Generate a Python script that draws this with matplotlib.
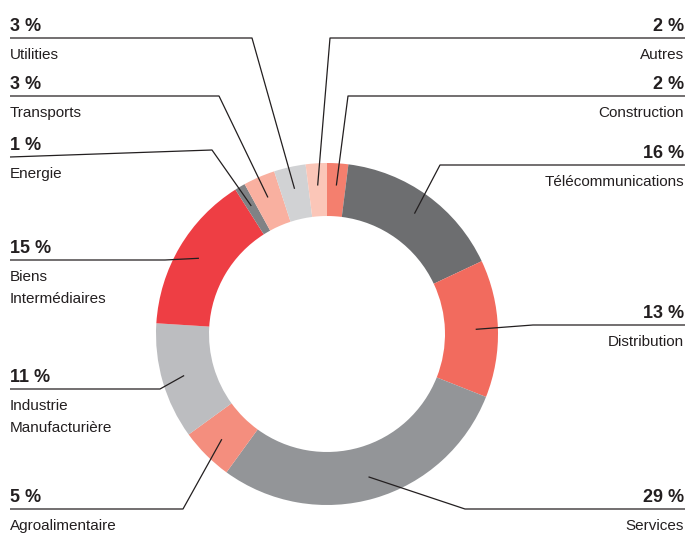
import numpy as np
import matplotlib.pyplot as plt
from matplotlib import font_manager

# ---- donnees (ordre horaire a partir de midi) ----
secteurs = ['Construction', 'Télécommunications', 'Distribution', 'Services',
            'Agroalimentaire', 'Industrie\nManufacturière', 'Biens\nIntermédiaires',
            'Energie', 'Transports', 'Utilities', 'Autres']
parts = [2, 16, 13, 29, 5, 11, 15, 1, 3, 3, 2]
couleurs = ['#F47F6E', '#6D6E70', '#F26B5E', '#939598', '#F48E7E', '#BCBDC0',
            '#EE3E44', '#808285', '#F9B0A0', '#D1D2D4', '#FBC6B8']

# ---- mise en page des etiquettes (pixels) ----
cote = ['d', 'd', 'd', 'd', 'g', 'g', 'g', 'g', 'g', 'g', 'd']
ligne_y = [96, 165, 325, 509, 509, 389, 260, 150, 96, 38, 38]
ligne_y0 = [96, 165, 325, 509, 509, 389, 260, 157, 96, 38, 38]
coude_x = [348, 440, 533, 465, 183, 160, 165, 212, 219, 252, 330]

W, H = 688, 533
cx, cy, R = 327, 334, 171
texte = '#231F20'

noms = {f.name for f in font_manager.fontManager.ttflist}
police = [p for p in ['Liberation Sans Narrow', 'Liberation Sans', 'DejaVu Sans'] if p in noms]

fig = plt.figure(figsize=(W / 100, H / 100), dpi=100)
ax = fig.add_axes([0, 0, 1, 1])

wedges, _ = ax.pie(parts, colors=couleurs, startangle=-90, counterclock=True,
                   radius=R, center=(cx, cy), frame=True,
                   wedgeprops=dict(width=R * 0.31, linewidth=0))
ax.set_xlim(0, W)
ax.set_ylim(H, 0)
ax.axis('off')

for i, w in enumerate(wedges):
    mid = np.deg2rad((w.theta1 + w.theta2) / 2)
    ex = cx + 0.87 * R * np.cos(mid)
    ey = cy + 0.87 * R * np.sin(mid)
    if cote[i] == 'g':
        xs = [10, coude_x[i], ex]
        xt, ha = 10, 'left'
    else:
        xs = [685, coude_x[i], ex]
        xt, ha = 684, 'right'
    ax.plot(xs, [ligne_y0[i], ligne_y[i], ey], color=texte, lw=0.9,
            solid_capstyle='butt')
    yl = ligne_y0[i]
    ax.text(xt, yl - 7, f'{parts[i]} %', ha=ha, va='baseline', fontsize=13,
            fontweight='bold', color=texte, family=police)
    for k, l in enumerate(secteurs[i].split('\n')):
        ax.text(xt, yl + 21 + 22 * k, l, ha=ha, va='baseline', fontsize=11,
                color=texte, family=police)

fig.savefig('out.png', dpi=100)
